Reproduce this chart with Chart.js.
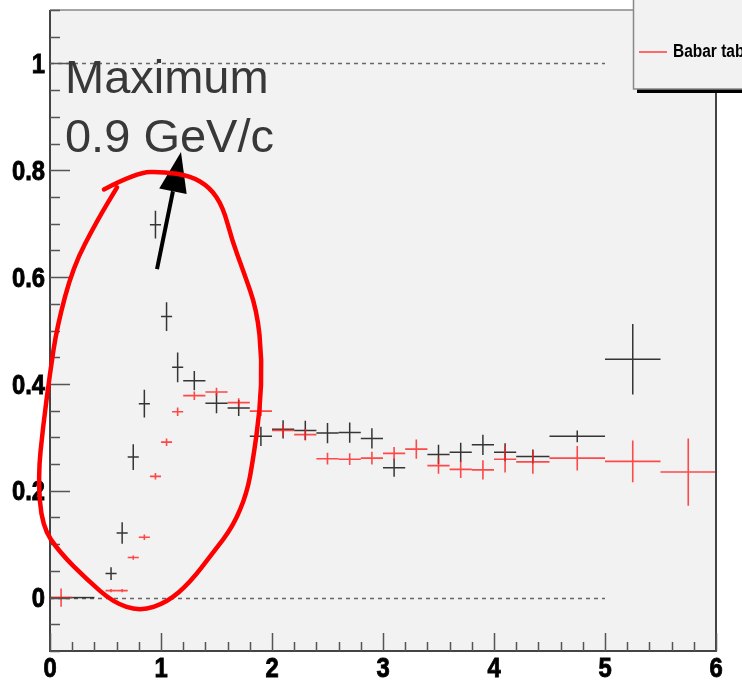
<!DOCTYPE html>
<html>
<head>
<meta charset="utf-8">
<script src="https://cdn.jsdelivr.net/npm/chart.js@4/dist/chart.umd.min.js"></script>
<style>
  html, body { margin: 0; padding: 0; background: #fff; }
  #wrap { width: 742px; height: 684px; position: relative; }
</style>
</head>
<body>
<div id="wrap"><canvas id="ratioChart"></canvas></div>
<script>
// measured ratio (black) with bin half-widths and errors
const dataX    = [0.1, 0.3, 0.55, 0.65, 0.75, 0.85, 0.95, 1.05, 1.15, 1.3, 1.5, 1.7, 1.9, 2.1, 2.3, 2.5, 2.7, 2.9, 3.1, 3.5, 3.7, 3.9, 4.1, 4.35, 4.75, 5.25];
const dataXErr = [0.1, 0.1, 0.05, 0.05, 0.05, 0.05, 0.05, 0.05, 0.05, 0.1, 0.1, 0.1, 0.1, 0.1, 0.1, 0.1, 0.1, 0.1, 0.1, 0.1, 0.1, 0.1, 0.1, 0.15, 0.25, 0.25];
const dataY    = [0, 0, 0.045, 0.121, 0.263, 0.363, 0.698, 0.526, 0.431, 0.406, 0.364, 0.355, 0.302, 0.315, 0.313, 0.308, 0.309, 0.298, 0.243, 0.268, 0.272, 0.286, 0.272, 0.264, 0.302, 0.446];
const dataYErr = [0, 0, 0.012, 0.02, 0.024, 0.026, 0.026, 0.027, 0.028, 0.018, 0.019, 0.015, 0.018, 0.017, 0.018, 0.019, 0.019, 0.019, 0.017, 0.018, 0.018, 0.019, 0.017, 0.013, 0.011, 0.066];

// Babar table (red)
const babarX    = [0.1, 0.55, 0.65, 0.75, 0.85, 0.95, 1.05, 1.15, 1.3, 1.5, 1.7, 1.9, 2.1, 2.3, 2.5, 2.7, 2.9, 3.1, 3.3, 3.5, 3.7, 3.9, 4.1, 4.35, 4.75, 5.25, 5.75];
const babarXErr = [0.1, 0.05, 0.05, 0.05, 0.05, 0.05, 0.05, 0.05, 0.1, 0.1, 0.1, 0.1, 0.1, 0.1, 0.1, 0.1, 0.1, 0.1, 0.1, 0.1, 0.1, 0.1, 0.1, 0.15, 0.25, 0.25, 0.25];
const babarY    = [0, 0.013, 0.013, 0.075, 0.113, 0.227, 0.291, 0.348, 0.378, 0.385, 0.365, 0.349, 0.313, 0.305, 0.26, 0.259, 0.261, 0.27, 0.278, 0.247, 0.24, 0.239, 0.259, 0.254, 0.261, 0.255, 0.235];
const babarYErr = [0.017, 0.003, 0.003, 0.004, 0.005, 0.006, 0.007, 0.008, 0.008, 0.008, 0.008, 0.009, 0.012, 0.011, 0.011, 0.011, 0.012, 0.012, 0.018, 0.015, 0.016, 0.018, 0.025, 0.022, 0.023, 0.039, 0.063];

const xTicks = [0, 1, 2, 3, 4, 5, 6];
const yTicks = [0, 0.2, 0.4, 0.6, 0.8, 1];
const refLines = [1, 0];

const noteLines = ["Maximum", "0.9 GeV/c"];
// hand-drawn loop around the peak, in axis units
const loopPath = [
  [0.486, 0.764], [0.784, 0.796], [1.018, 0.797], [1.261, 0.790], [1.441, 0.768], [1.559, 0.731],
  [1.640, 0.669], [1.739, 0.613], [1.865, 0.538], [1.910, 0.445], [1.892, 0.351], [1.829, 0.258],
  [1.775, 0.196], [1.649, 0.133], [1.468, 0.084], [1.261, 0.028], [1.054, -0.009], [0.811, -0.026],
  [0.568, -0.009], [0.333, 0.034], [0.090, 0.084], [-0.072, 0.133], [-0.108, 0.226], [-0.063, 0.320],
  [0.000, 0.420], [0.063, 0.507], [0.207, 0.619], [0.423, 0.705], [0.604, 0.768]
];
const arrowFrom = [0.964, 0.615];
const arrowTo = [1.18, 0.834];

function toPoints(xs, ys) {
  return xs.map((x, i) => ({ x: x, y: ys[i] }));
}

// bold label, squeezed a little sideways like the ROOT axis font
function drawLabel(ctx, text, x, y) {
  ctx.save();
  ctx.translate(x, y);
  ctx.scale(0.85, 1);
  ctx.fillText(text, 0, 0);
  ctx.strokeText(text, 0, 0);
  ctx.restore();
}

const rootStyle = {
  id: "rootStyle",
  beforeDraw(chart) {
    const { ctx, chartArea: a } = chart;
    ctx.save();
    ctx.fillStyle = "#ffffff";
    ctx.fillRect(0, 0, chart.width, chart.height);
    ctx.fillStyle = "#f2f2f2";
    ctx.fillRect(a.left, a.top, a.right - a.left, a.bottom - a.top);
    ctx.restore();
  },
  beforeDatasetsDraw(chart) {
    const { ctx, scales: { x, y } } = chart;
    ctx.save();
    ctx.strokeStyle = "#666";
    ctx.lineWidth = 1.5;
    ctx.setLineDash([4, 4]);
    refLines.forEach((v) => {
      const py = Math.round(y.getPixelForValue(v)) + 0.5;
      ctx.beginPath();
      ctx.moveTo(x.getPixelForValue(0), py);
      ctx.lineTo(x.getPixelForValue(5), py);
      ctx.stroke();
    });
    ctx.restore();
  },
  afterDatasetsDraw(chart) {
    const { ctx, chartArea: a, scales: { x, y } } = chart;

    // error-bar crosses
    chart.data.datasets.forEach((ds, di) => {
      const meta = chart.getDatasetMeta(di);
      ctx.save();
      ctx.strokeStyle = ds.borderColor;
      ctx.lineWidth = ds.barWidth;
      meta.data.forEach((pt, i) => {
        const d = ds.data[i];
        ctx.beginPath();
        ctx.moveTo(x.getPixelForValue(d.x - ds.xErr[i]), pt.y);
        ctx.lineTo(x.getPixelForValue(d.x + ds.xErr[i]), pt.y);
        if (ds.yErr[i] > 0) {
          ctx.moveTo(pt.x, y.getPixelForValue(d.y + ds.yErr[i]));
          ctx.lineTo(pt.x, y.getPixelForValue(d.y - ds.yErr[i]));
        }
        ctx.stroke();
      });
      ctx.restore();
    });

    // frame
    ctx.save();
    ctx.strokeStyle = "#888";
    ctx.lineWidth = 1.5;
    ctx.beginPath();
    ctx.moveTo(a.left, a.top);
    ctx.lineTo(a.right, a.top);
    ctx.stroke();
    ctx.strokeStyle = "#444";
    ctx.lineWidth = 2;
    ctx.beginPath();
    ctx.moveTo(a.left, a.top);
    ctx.lineTo(a.left, a.bottom);
    ctx.lineTo(a.right, a.bottom);
    ctx.lineTo(a.right, a.top);
    ctx.stroke();

    // ticks inside the frame
    ctx.strokeStyle = "#555";
    ctx.lineWidth = 1.5;
    ctx.beginPath();
    for (let k = -2; k <= 22; k++) {
      const v = k * 0.05;
      if (v < y.min - 1e-9 || v > y.max + 1e-9) continue;
      const py = Math.round(y.getPixelForValue(v)) + 0.5;
      const len = k % 4 === 0 ? 20 : 10;
      ctx.moveTo(a.left, py);
      ctx.lineTo(a.left + len, py);
    }
    for (let k = 0; k <= 30; k++) {
      const px = Math.round(x.getPixelForValue(k * 0.2)) + 0.5;
      const len = k % 5 === 0 ? 18 : 9;
      ctx.moveTo(px, a.bottom);
      ctx.lineTo(px, a.bottom - len);
    }
    ctx.stroke();

    // tick labels
    ctx.fillStyle = "#000";
    ctx.strokeStyle = "#000";
    ctx.lineWidth = 0.9;
    ctx.font = 'bold 28px "Liberation Sans", Arial, sans-serif';
    ctx.textBaseline = "middle";
    ctx.textAlign = "right";
    yTicks.forEach((v) => drawLabel(ctx, String(v), a.left - 5, y.getPixelForValue(v) + 2));
    ctx.textAlign = "center";
    xTicks.forEach((v) => drawLabel(ctx, String(v), x.getPixelForValue(v), a.bottom + 18));
    ctx.restore();
  },
  afterDraw(chart) {
    const { ctx, scales: { x, y } } = chart;
    const px = (v) => x.getPixelForValue(v);
    const py = (v) => y.getPixelForValue(v);

    // note text
    ctx.save();
    ctx.fillStyle = "#383838";
    ctx.font = '47px "Liberation Sans", Arial, sans-serif';
    ctx.textBaseline = "alphabetic";
    ctx.textAlign = "left";
    ctx.fillText(noteLines[0], px(0.135), py(0.944));
    ctx.fillText(noteLines[1], px(0.135), py(0.834));

    // arrow
    const x0 = px(arrowFrom[0]), y0 = py(arrowFrom[1]);
    const x1 = px(arrowTo[0]), y1 = py(arrowTo[1]);
    const ang = Math.atan2(y1 - y0, x1 - x0);
    const head = 40, half = 14;
    const bx = x1 - head * Math.cos(ang), by = y1 - head * Math.sin(ang);
    ctx.strokeStyle = "#000";
    ctx.lineWidth = 4;
    ctx.beginPath();
    ctx.moveTo(x0, y0);
    ctx.lineTo(bx, by);
    ctx.stroke();
    ctx.fillStyle = "#000";
    ctx.beginPath();
    ctx.moveTo(x1, y1);
    ctx.lineTo(bx + half * Math.sin(ang), by - half * Math.cos(ang));
    ctx.lineTo(bx - half * Math.sin(ang), by + half * Math.cos(ang));
    ctx.closePath();
    ctx.fill();

    // loop
    const pts = loopPath.map((p) => [px(p[0]), py(p[1])]);
    ctx.strokeStyle = "#ff0000";
    ctx.lineWidth = 4.5;
    ctx.lineCap = "round";
    ctx.lineJoin = "round";
    ctx.beginPath();
    ctx.moveTo(pts[0][0], pts[0][1]);
    for (let i = 1; i < pts.length - 1; i++) {
      const mx = (pts[i][0] + pts[i + 1][0]) / 2;
      const my = (pts[i][1] + pts[i + 1][1]) / 2;
      ctx.quadraticCurveTo(pts[i][0], pts[i][1], mx, my);
    }
    const last = pts[pts.length - 1];
    ctx.lineTo(last[0], last[1]);
    ctx.stroke();
    ctx.restore();

    // legend box, runs off the right edge
    const ds = chart.data.datasets[1];
    ctx.save();
    ctx.fillStyle = "#000";
    ctx.fillRect(637, 88, 120, 5);
    ctx.fillStyle = "#f2f2f2";
    ctx.fillRect(633, -2, 130, 91);
    ctx.strokeStyle = "#888";
    ctx.lineWidth = 1.5;
    ctx.strokeRect(633.5, -2, 130, 91);
    ctx.strokeStyle = "rgba(255,60,60,0.75)";
    ctx.lineWidth = 2;
    ctx.beginPath();
    ctx.moveTo(639, 52);
    ctx.lineTo(667, 52);
    ctx.stroke();
    ctx.fillStyle = "#000";
    ctx.font = 'bold 18px "Liberation Sans", Arial, sans-serif';
    ctx.textBaseline = "middle";
    ctx.translate(673, 52);
    ctx.scale(0.86, 1);
    ctx.fillText(ds.label, 0, 0);
    ctx.restore();
  }
};

new Chart(document.getElementById("ratioChart"), {
  type: "scatter",
  data: {
    datasets: [
      {
        label: "Data",
        data: toPoints(dataX, dataY),
        xErr: dataXErr,
        yErr: dataYErr,
        borderColor: "rgba(20,20,20,0.85)",
        barWidth: 1.5,
        pointRadius: 0,
      },
      {
        label: "Babar table",
        data: toPoints(babarX, babarY),
        xErr: babarXErr,
        yErr: babarYErr,
        borderColor: "rgba(255,30,30,0.8)",
        barWidth: 1.6,
        pointRadius: 0,
      },
    ],
  },
  options: {
    responsive: true,
    maintainAspectRatio: false,
    animation: false,
    layout: { padding: { left: 50, right: 26, top: 10, bottom: 33 } },
    scales: {
      x: { type: "linear", min: 0, max: 6, display: false },
      y: { type: "linear", min: -0.1, max: 1.1, display: false },
    },
    plugins: {
      legend: { display: false },
      tooltip: { enabled: false },
    },
  },
  plugins: [rootStyle],
});
</script>
</body>
</html>
